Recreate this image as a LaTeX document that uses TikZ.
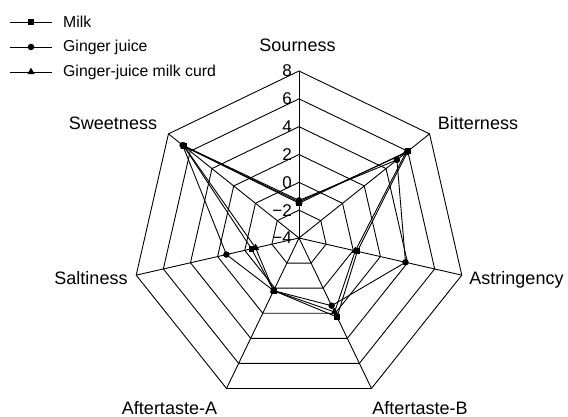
\documentclass[tikz,border=0pt]{standalone}
\usepackage{fontspec}
\setmainfont{Liberation Sans}
\usetikzlibrary{shapes.geometric,calc}
\tikzset{
  gridline/.style={line width=0.9pt,black},
  series/.style={line width=0.9pt,black},
  sqmark/.style={rectangle,fill=black,draw=none,minimum size=5.8pt,inner sep=0pt},
  circmark/.style={circle,fill=black,draw=none,minimum size=6.5pt,inner sep=0pt},
  trimark/.style={regular polygon,regular polygon sides=3,fill=black,draw=none,minimum size=8.5pt,inner sep=0pt},
  axislabel/.style={font=\fontsize{18}{20}\selectfont,inner sep=0pt},
  ticklabel/.style={font=\fontsize{17}{19}\selectfont,inner sep=0pt,anchor=east},
  legtext/.style={font=\fontsize{15.8}{17}\selectfont,inner sep=0pt,anchor=west}
}
\begin{document}
\begin{tikzpicture}[x=1pt,y=1pt]
\useasboundingbox[fill=white] (0,0) rectangle (568,-417);
% grid
\begin{scope}[shift={(299,-238)}]
  \foreach \l in {1,...,6}{
    \draw[gridline] plot[samples at={0,...,6}] ({90-\x*360/7}:{\l*27.833}) -- cycle;
  }
  \foreach \k in {0,...,6}{
    \draw[gridline] (0,0) -- ({90-\k*360/7}:167);
  }
  % data coordinates
  \foreach \v [count=\k from 0] in {-1.5,6.0,0.3,2.3,0.2,-0.5,6.6}{
    \coordinate (m\k) at ({90-\k*360/7}:{(\v+4)*13.917});
  }
  \foreach \v [count=\k from 0] in {-1.3,5.0,3.85,1.4,0.2,1.35,6.7}{
    \coordinate (g\k) at ({90-\k*360/7}:{(\v+4)*13.917});
  }
  \foreach \v [count=\k from 0] in {-1.4,5.8,0.15,1.9,0.2,-0.8,6.55}{
    \coordinate (c\k) at ({90-\k*360/7}:{(\v+4)*13.917});
  }
\end{scope}
% series lines
\draw[series] (m0) -- (m1) -- (m2) -- (m3) -- (m4) -- (m5) -- (m6) -- cycle;
\draw[series] (g0) -- (g1) -- (g2) -- (g3) -- (g4) -- (g5) -- (g6) -- cycle;
\draw[series] (c0) -- (c1) -- (c2) -- (c3) -- (c4) -- (c5) -- (c6) -- cycle;
\foreach \k in {0,...,6}{
  \node[sqmark] (mm\k) at (m\k) {};
  \node[circmark] (gm\k) at (g\k) {};
  \node[trimark] (cm\k) at (c\k) {};
}
% tick labels
\node[ticklabel] (t8) at (292,-71) {8};
\node[ticklabel] (t6) at (292,-98.8) {6};
\node[ticklabel] (t4) at (292,-126.7) {4};
\node[ticklabel] (t2) at (292,-154.5) {2};
\node[ticklabel] (t0) at (292,-182.3) {0};
\node[ticklabel] (tm2) at (292,-210.2) {−2};
\node[ticklabel] (tm4) at (292,-238) {−4};
% axis labels
\node[axislabel] (sour) at (297.5,-45) {Sourness};
\node[axislabel] (bitt) at (478,-123) {Bitterness};
\node[axislabel] (astr) at (516.5,-280) {Astringency};
\node[axislabel] (aftb) at (420,-408) {Aftertaste-B};
\node[axislabel] (afta) at (169.5,-408) {Aftertaste-A};
\node[axislabel] (salt) at (91,-278) {Saltiness};
\node[axislabel] (swee) at (113,-123) {Sweetness};
% legend
\coordinate (l1a) at (10,-22); \coordinate (l1b) at (52,-22);
\coordinate (l2a) at (10,-47); \coordinate (l2b) at (52,-47);
\coordinate (l3a) at (10,-72); \coordinate (l3b) at (52,-72);
\draw[series] (l1a) -- (l1b);
\draw[series] (l2a) -- (l2b);
\draw[series] (l3a) -- (l3b);
\node[sqmark] (lm1) at ($(l1a)!0.5!(l1b)$) {};
\node[circmark] (lm2) at ($(l2a)!0.5!(l2b)$) {};
\node[trimark] (lm3) at ($(l3a)!0.5!(l3b)$) {};
\node[legtext] (lt1) at (63,-22) {Milk};
\node[legtext] (lt2) at (63,-47) {Ginger juice};
\node[legtext] (lt3) at (63,-72) {Ginger-juice milk curd};
\end{tikzpicture}
\end{document}
